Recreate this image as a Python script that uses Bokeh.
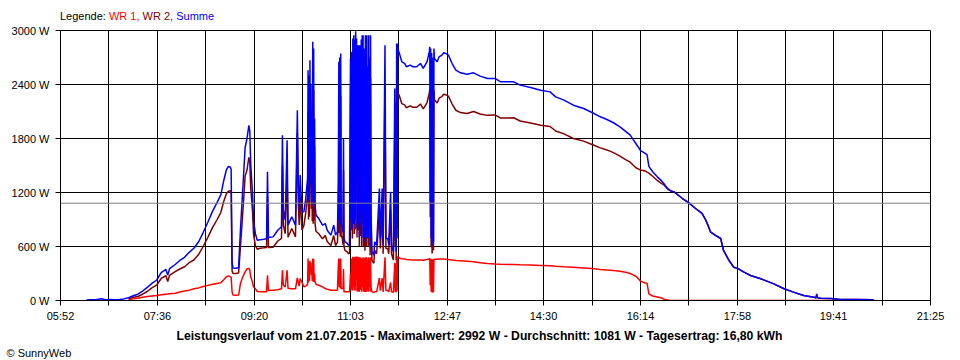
import numpy as np
from bokeh.plotting import figure
from bokeh.models import FixedTicker, Span, Range1d, Title, Div
from bokeh.layouts import column
from bokeh.embed import file_html
from bokeh.resources import INLINE

nan = float("nan")

# ---------------- data ----------------
times = [
    "06:20", "06:25", "06:30", "06:36", "06:40", "06:45", "06:50", "06:55", "07:00", "07:05",
    "07:10", "07:15", "07:20", "07:25", "07:30", "07:35", "07:40", "07:45", "07:47", "07:49",
    "07:55", "08:00", "08:05", "08:10", "08:15", "08:20", "08:25", "08:30", "08:35", "08:40",
    "08:44", "08:47", "08:50", "08:52", "08:54", "08:55", "08:56", "08:57", "09:00", "09:03",
    "09:05", "09:07", "09:10", "09:12", "09:14", "09:15", "09:16", "09:18", "09:19", "09:21",
    "09:23", "09:26", "09:30", "09:33", "09:34", "09:35", "09:40", "09:45", "09:49", "09:50",
    "09:51", "09:53", "09:55", "09:56", "10:00", "10:04", "10:06", "10:07", "10:08", "10:09",
    "10:11", "10:13", "10:15", "10:17:00", "10:17:30", "10:18:00", "10:18:30", "10:19:00", "10:19:30", "10:20:00",
    "10:20:30", "10:21:00", "10:21:30", "10:22:00", "10:22:30", "10:23:00", "10:23:30", "10:24:00", "10:24:30", "10:25:00",
    "10:26", "10:29", "10:33", "10:36", "10:38", "10:42", "10:45", "10:47", "10:49", "10:50:00",
    "10:50:30", "10:51:00", "10:51:30", "10:52:00", "10:52:30", "10:53:00", "10:54:00", "10:55:00", "10:55:30", "10:56:00",
    "10:57", "10:59", "11:01", "11:02", "11:03:00", "11:03:30", "11:04:00", "11:04:30", "11:05:00", "11:05:30",
    "11:06:00", "11:06:30", "11:07:00", "11:07:30", "11:08:00", "11:08:30", "11:09:00", "11:09:30", "11:10:00", "11:10:30",
    "11:11:00", "11:11:30", "11:12:00", "11:12:30", "11:13:00", "11:13:30", "11:14:00", "11:14:30", "11:15:00", "11:15:30",
    "11:16:00", "11:16:30", "11:17:00", "11:17:30", "11:18:00", "11:18:30", "11:19:00", "11:19:30", "11:20:00", "11:20:30",
    "11:21:00", "11:21:30", "11:22:00", "11:22:30", "11:23:00", "11:23:30", "11:24:00", "11:24:30", "11:25:00", "11:26",
    "11:28", "11:29", "11:31", "11:34", "11:35", "11:37", "11:38", "11:40", "11:41", "11:43",
    "11:44", "11:46", "11:47", "11:49", "11:50:30", "11:51:00", "11:51:30", "11:52:00", "11:52:30", "11:53:00",
    "11:53:30", "11:54:00", "11:55", "11:56", "11:58", "12:01", "12:03", "12:07", "12:10", "12:14",
    "12:18", "12:21", "12:25", "12:27:30", "12:28:00", "12:28:30", "12:29:00", "12:29:30", "12:30:00", "12:30:30",
    "12:31:00", "12:31:30", "12:32:00", "12:32:30", "12:33:00", "12:36", "12:38", "12:41", "12:43", "12:45",
    "12:48", "12:52", "12:56", "13:01", "13:08", "13:15", "13:22", "13:30", "13:38", "13:44",
    "13:58", "14:05", "14:16", "14:27", "14:37", "14:43", "14:52", "15:02", "15:13", "15:22",
    "15:31", "15:38", "15:45", "15:52", "15:58", "16:03", "16:06", "16:09", "16:12", "16:14",
    "16:19", "16:21", "16:23", "16:27", "16:32", "16:36", "16:39", "16:43", "16:46", "16:50",
    "16:59", "17:06", "17:13", "17:20", "17:24", "17:27", "17:29", "17:34", "17:40", "17:43",
    "17:49", "17:54", "17:59", "18:05", "18:12", "18:23", "18:37", "18:48", "18:58", "19:09",
    "19:20", "19:22", "19:23", "19:24", "19:27", "19:38", "19:48", "20:06", "20:24",
]

wr1 = [
    nan, nan, nan, nan, nan, nan, nan, nan, nan, 10,
    18, 25, 35, 45, 50, 55, 65, 70, 72, 74,
    80, 95, 105, 115, 130, 140, 155, 168, 180, 190,
    196, 230, 265, 274, 263, 260, 96, 60, 59, 60,
    189, 250, 318, 350, 356, 340, 263, 200, 150, 133,
    100, 96, 96, 96, 281, 110, 115, 120, 130, 337,
    170, 150, 337, 135, 130, 130, 250, 200, 160, 244,
    200, 152, 160, 180, 467, 200, 430, 220, 440, 319,
    420, 280, 330, 220, 467, 207, 460, 210, 300, 207,
    180, 170, 152, 133, 125, 115, 115, 115, 115, 393,
    467, 150, 467, 140, 467, 130, 130, 140, 350, 96,
    96, 96, 96, 96, 300, 120, 467, 400, 110, 485,
    150, 485, 110, 480, 110, 485, 470, 485, 100, 485,
    470, 96, 480, 96, 480, 467, 120, 470, 96, 470,
    150, 480, 96, 470, 250, 96, 480, 300, 96, 480,
    110, 450, 96, 480, 150, 460, 96, 480, 150, 96,
    90, 96, 96, 250, 110, 250, 96, 480, 110, 110,
    96, 200, 96, 90, 420, 96, 400, 90, 490, 110,
    490, 480, 475, 470, 465, 460, 455, 452, 450, 450,
    450, 448, 455, 460, 470, 170, 465, 96, 460, 93,
    96, 455, 93, 460, 458, 458, 460, 460, 460, 458,
    455, 450, 445, 442, 437, 430, 420, 410, 405, 403,
    400, 398, 395, 390, 385, 380, 375, 370, 362, 355,
    345, 338, 332, 326, 315, 300, 285, 270, 240, 215,
    195, 193, 74, 50, 40, 30, 15, 7, 0, 0,
    0, 0, 0, 0, 0, 0, 0, 0, 0, 0,
    0, 0, 0, 0, 0, 0, 0, 0, 0, 0,
    0, 0, 0, 0, 0, 0, 0, 0, 0,
]

wr2 = [
    nan, nan, nan, nan, nan, nan, nan, nan, nan, 20,
    35, 45, 70, 100, 140, 170, 245, 275, 210, 280,
    320, 350, 375, 420, 450, 510, 600, 702, 810, 900,
    980, 1100, 1190, 1215, 1220, 1200, 330, 300, 300, 305,
    600, 900, 1382, 1450, 1590, 1540, 1250, 980, 740, 610,
    570, 580, 585, 590, 1149, 590, 592, 661, 690, 1500,
    834, 743, 1443, 702, 800, 707, 1865, 1081, 840, 1149,
    785, 833, 973, 1176, 2092, 900, 2074, 930, 2230, 1259,
    1980, 1020, 1618, 880, 2407, 852, 2340, 890, 1722, 852,
    770, 741, 685, 722, 656, 611, 722, 611, 648, 926,
    2185, 750, 2233, 710, 2278, 707, 707, 620, 1450, 604,
    556, 544, 519, 524, 2389, 780, 2296, 1993, 690, 2426,
    850, 2463, 740, 2420, 790, 2507, 2256, 2426, 700, 2352,
    2330, 778, 2357, 604, 2209, 2370, 717, 2430, 604, 2478,
    850, 2468, 604, 2330, 957, 554, 2468, 1278, 604, 2468,
    690, 2150, 604, 2468, 835, 2240, 504, 2468, 835, 445,
    414, 556, 519, 994, 579, 994, 519, 2357, 579, 579,
    519, 1007, 519, 451, 1936, 604, 1800, 451, 2366, 690,
    2366, 2302, 2285, 2256, 2187, 2174, 2142, 2163, 2147, 2147,
    2184, 2130, 2197, 2303, 2349, 926, 2335, 593, 2290, 522,
    604, 2245, 557, 2340, 2231, 2194, 2248, 2266, 2292, 2287,
    2271, 2183, 2114, 2088, 2078, 2100, 2073, 2057, 2062, 2027,
    2030, 1995, 1972, 1947, 1933, 1883, 1851, 1800, 1771, 1734,
    1696, 1673, 1643, 1604, 1565, 1537, 1505, 1475, 1460, 1450,
    1440, 1427, 1416, 1380, 1334, 1305, 1285, 1238, 1220, 1207,
    1133, 1085, 1022, 967, 893, 819, 763, 726, 689, 556,
    444, 370, 352, 315, 278, 241, 185, 130, 93, 56,
    37, 30, 35, 30, 26, 22, 11, 11, 7,
]

summe = [
    5, 8, 8, 20, 8, 10, 8, 12, 18, 30,
    53, 70, 105, 145, 190, 225, 310, 345, 282, 354,
    400, 445, 480, 535, 580, 650, 755, 870, 990, 1090,
    1176, 1330, 1455, 1489, 1483, 1460, 426, 360, 359, 365,
    789, 1150, 1700, 1800, 1946, 1880, 1513, 1180, 890, 743,
    670, 676, 681, 686, 1430, 700, 707, 781, 820, 1837,
    1004, 893, 1780, 837, 930, 837, 2115, 1281, 1000, 1393,
    985, 985, 1133, 1356, 2559, 1100, 2504, 1150, 2670, 1578,
    2400, 1300, 1948, 1100, 2874, 1059, 2800, 1100, 2022, 1059,
    950, 911, 837, 855, 781, 726, 837, 726, 763, 1319,
    2652, 900, 2700, 850, 2745, 837, 837, 760, 1800, 700,
    652, 640, 615, 620, 2689, 900, 2763, 2393, 800, 2911,
    1000, 2948, 850, 2900, 900, 2992, 2726, 2911, 800, 2837,
    2800, 874, 2837, 700, 2689, 2837, 837, 2900, 700, 2948,
    1000, 2948, 700, 2800, 1207, 650, 2948, 1578, 700, 2948,
    800, 2600, 700, 2948, 985, 2700, 600, 2948, 985, 541,
    504, 652, 615, 1244, 689, 1244, 615, 2837, 689, 689,
    615, 1207, 615, 541, 2356, 700, 2200, 541, 2856, 800,
    2856, 2782, 2760, 2726, 2652, 2634, 2597, 2615, 2597, 2597,
    2634, 2578, 2652, 2763, 2819, 1096, 2800, 689, 2750, 615,
    700, 2700, 650, 2800, 2689, 2652, 2708, 2726, 2752, 2745,
    2726, 2633, 2559, 2530, 2515, 2530, 2493, 2467, 2467, 2430,
    2430, 2393, 2367, 2337, 2318, 2263, 2226, 2170, 2133, 2089,
    2041, 2011, 1975, 1930, 1880, 1837, 1790, 1745, 1700, 1665,
    1635, 1620, 1490, 1430, 1374, 1335, 1300, 1245, 1220, 1207,
    1133, 1085, 1022, 967, 893, 819, 763, 726, 689, 556,
    444, 370, 352, 315, 278, 241, 185, 130, 93, 56,
    37, 30, 74, 30, 26, 22, 11, 11, 7,
]

x_tick_labels = ["05:52", "07:36", "09:20", "11:03", "12:47",
                 "14:30", "16:14", "17:58", "19:41", "21:25"]
y_ticks = [0, 600, 1200, 1800, 2400, 3000]
y_unit = " W"
average_w = 1081

legend_parts = [("Legende: ", "#000000"), ("WR 1, ", "#FF0000"),
                ("WR 2, ", "#800000"), ("Summe", "#0000FF")]
title_text = ("Leistungsverlauf vom 21.07.2015 - Maximalwert: 2992 W - "
              "Durchschnitt: 1081 W - Tagesertrag: 16,80 kWh")
copyright_text = "\u00a9 SunnyWeb"

assert len(times) == len(wr1) == len(wr2) == len(summe)

# ---------------- helpers ----------------
def to_min(s):
    parts = [int(v) for v in s.split(":")]
    sec = parts[2] if len(parts) > 2 else 0
    return parts[0] * 60 + parts[1] + sec / 60.0

x = np.array([to_min(t) for t in times], dtype=float)
major = [int(to_min(t)) for t in x_tick_labels]
minor = [(a + b) / 2 for a, b in zip(major[:-1], major[1:])]
x0, x1 = major[0], major[-1]

FONT = "Liberation Sans"

# legend line above the plot (multi-coloured text)
legend_html = "".join(
    f'<span style="color:{c}; white-space:pre">{t}</span>' for t, c in legend_parts)
legend = Div(text=legend_html, width=400, height=22, margin=(0, 0, 0, 60),
             styles={"font-family": FONT, "font-size": "11px",
                     "line-height": "11px", "padding-top": "11px",
                     "white-space": "pre"})

p = figure(frame_width=870, frame_height=270,
           x_range=Range1d(x0, x1), y_range=Range1d(y_ticks[0], y_ticks[-1]),
           output_backend="svg", toolbar_location=None,
           min_border_left=60, min_border_right=30,
           min_border_top=8, min_border_bottom=60,
           background_fill_color="white", border_fill_color="white")
p.outline_line_color = "black"
p.outline_line_width = 1

xt = FixedTicker(ticks=major, minor_ticks=minor)
yt = FixedTicker(ticks=y_ticks)

p.xaxis.ticker = xt
p.xaxis.major_label_overrides = {m: lab for m, lab in zip(major, x_tick_labels)}
p.yaxis.ticker = yt
p.yaxis.major_label_overrides = {v: f"{v}{y_unit}" for v in y_ticks}

for ax in (p.xaxis[0], p.yaxis[0]):
    ax.axis_line_color = "black"
    ax.axis_line_width = 1
    ax.major_tick_line_color = "black"
    ax.major_tick_in = 0
    ax.major_tick_out = 5
    ax.major_label_text_font = FONT
    ax.major_label_text_font_size = "11px"
    ax.major_label_text_color = "black"
p.xaxis.minor_tick_line_color = "black"
p.xaxis.minor_tick_in = 0
p.xaxis.minor_tick_out = 5
p.xaxis.major_label_standoff = 4
p.yaxis.minor_tick_line_color = None
p.yaxis.major_label_standoff = 6

p.xgrid.ticker = xt
p.ygrid.ticker = yt
p.xgrid.grid_line_color = "black"
p.xgrid.minor_grid_line_color = "black"
p.ygrid.grid_line_color = "black"

p.line(x, np.array(wr1, dtype=float), line_color="#FF0000", line_width=1.5)
p.line(x, np.array(wr2, dtype=float), line_color="#800000", line_width=1.5)
p.line(x, np.array(summe, dtype=float), line_color="#0000FF", line_width=1.5)

p.add_layout(Span(location=average_w, dimension="width",
                  line_color="#808080", line_width=1))

p.add_layout(Title(text=title_text, align="left", offset=116, standoff=4,
                   text_font=FONT, text_font_size="12.2px",
                   text_font_style="bold", text_color="black"), "below")
p.add_layout(Title(text=copyright_text, align="left", offset=-54, standoff=0,
                   text_font=FONT, text_font_size="11px",
                   text_font_style="normal", text_color="black"), "below")

layout = column(legend, p, spacing=0)
open("out.html", "w").write(file_html(layout, INLINE))
